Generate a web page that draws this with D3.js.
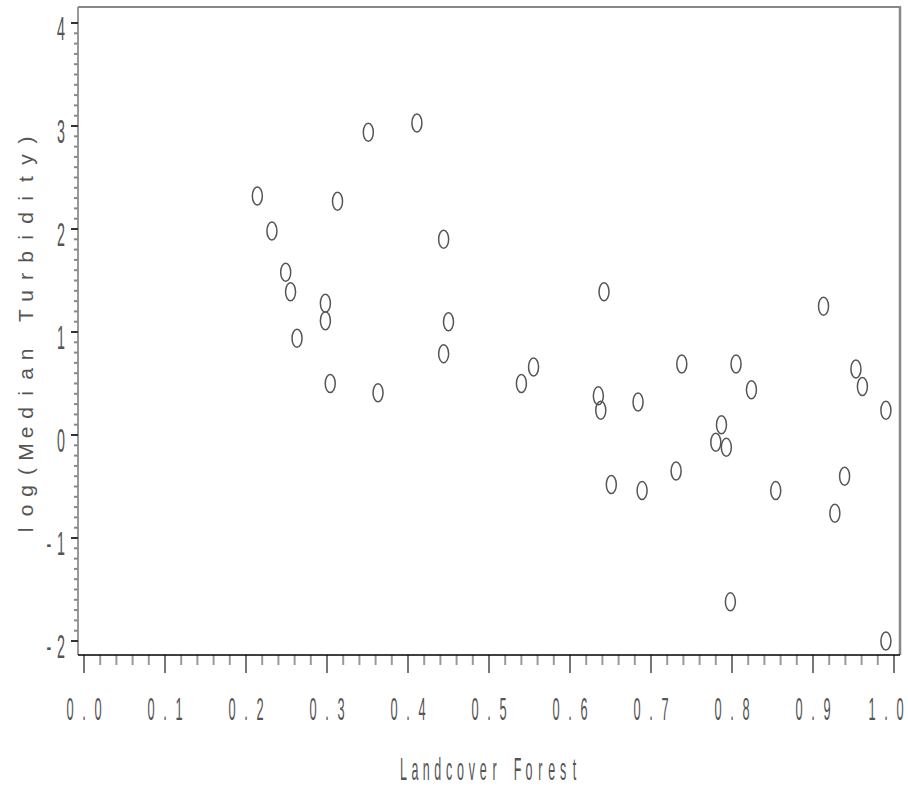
<!DOCTYPE html>
<html>
<head>
<meta charset="utf-8">
<script src="https://cdn.jsdelivr.net/npm/d3@7"></script>
<style>
  html, body { margin: 0; padding: 0; background: #fff; }
  svg { display: block; }
</style>
</head>
<body>
<svg id="chart" width="908" height="788"></svg>
<script>
// ---- data ----
const forest = [0.214,0.232,0.249,0.255,0.263,0.298,0.298,0.304,0.313,0.351,0.363,0.411,0.444,0.444,0.450,
                0.540,0.555,0.635,0.638,0.642,0.651,0.684,0.689,0.731,0.738,0.780,0.787,0.793,0.798,0.805,
                0.824,0.854,0.913,0.927,0.939,0.953,0.961,0.990,0.990];
const logTurbidity = [2.32,1.98,1.58,1.39,0.94,1.28,1.11,0.50,2.27,2.94,0.41,3.03,1.90,0.79,1.10,
                      0.50,0.66,0.38,0.24,1.39,-0.48,0.32,-0.54,-0.35,0.69,-0.07,0.10,-0.12,-1.62,0.69,
                      0.44,-0.54,1.25,-0.76,-0.40,0.64,0.47,0.24,-2.00];
const xTicks = [0,0.1,0.2,0.3,0.4,0.5,0.6,0.7,0.8,0.9,1.0];
const xTickLabels = ["0.0","0.1","0.2","0.3","0.4","0.5","0.6","0.7","0.8","0.9","1.0"];
const yTicks = [-2,-1,0,1,2,3,4];
const yTickLabels = ["-2","-1","0","1","2","3","4"];
const xTitle = "Landcover Forest";
const yTitle = "log(Median Turbidity)";

// ---- layout ----
const svg = d3.select("#chart");
const x = d3.scaleLinear().domain([0, 1]).range([84, 894]);
const y = d3.scaleLinear().domain([-2, 4]).range([641, 23]);
const frame = {left: 78, right: 900, top: 7, bottom: 655};
const textColor = "#555";
const FONT = "'Liberation Sans', Arial, sans-serif";

// draw a string char by char (condensed, letter-spaced look)
function drawChars(g, str, cx, baseline, pitch, size, sx, anchor) {
  const n = str.length;
  let start;
  if (anchor === "end") start = cx - (n - 1) * pitch;
  else start = cx - (n - 1) * pitch / 2;
  for (let i = 0; i < n; i++) {
    const ch = str[i];
    if (ch === " ") continue;
    g.append("text")
      .attr("transform", `translate(${start + i * pitch},${baseline}) scale(${sx},1)`)
      .attr("text-anchor", "middle")
      .attr("font-family", FONT)
      .attr("font-size", size)
      .attr("fill", textColor)
      .text(ch);
  }
}

// ---- frame ----
svg.append("line").attr("x1", frame.left).attr("x2", frame.left)
  .attr("y1", frame.top).attr("y2", frame.bottom)
  .attr("stroke", "#999").attr("stroke-width", 2);
svg.append("line").attr("x1", frame.left).attr("x2", frame.right + 1)
  .attr("y1", frame.top).attr("y2", frame.top)
  .attr("stroke", "#888").attr("stroke-width", 2);
svg.append("line").attr("x1", frame.right).attr("x2", frame.right)
  .attr("y1", frame.top).attr("y2", frame.bottom)
  .attr("stroke", "#888").attr("stroke-width", 2.5);

// ---- y ticks ----
const yMinor = d3.range(-20, 41).map(d => d / 10);
const isMajorY = d => Math.abs(d - Math.round(d)) < 1e-9;
svg.append("g").selectAll("line").data(yMinor).join("line")
  .attr("x1", d => isMajorY(d) ? 71 : 74)
  .attr("x2", frame.left)
  .attr("y1", d => y(d)).attr("y2", d => y(d))
  .attr("stroke", d => isMajorY(d) ? "#333" : "#888")
  .attr("stroke-width", 2);

// ---- x axis ----
const xMinor = d3.range(0, 51).map(d => d / 50);
svg.append("g").selectAll("line").data(xMinor).join("line")
  .attr("x1", d => x(d)).attr("x2", d => x(d))
  .attr("y1", frame.bottom)
  .attr("y2", (d, i) => i % 5 === 0 ? 673 : 665)
  .attr("stroke", (d, i) => i % 5 === 0 ? "#777" : "#999")
  .attr("stroke-width", 2);
svg.append("line").attr("x1", frame.left).attr("x2", frame.right)
  .attr("y1", frame.bottom).attr("y2", frame.bottom)
  .attr("stroke", "#000").attr("stroke-width", 1.6);

// ---- tick labels ----
const gxl = svg.append("g");
xTicks.forEach((t, i) => {
  const pitch = 14;
  let cx = x(t);
  const half = pitch + 4;
  if (cx + half > 904) cx = 904 - half;
  drawChars(gxl, xTickLabels[i], cx, 720, pitch, 32, 0.4);
});
const gyl = svg.append("g");
yTicks.forEach((t, i) => {
  drawChars(gyl, yTickLabels[i], 61, y(t) + 17, 12, 34, 0.42, "end");
});

// ---- titles ----
const gxt = svg.append("g");
drawChars(gxt, xTitle, 489, 780, 11.4, 32, 0.39);
const gyt = svg.append("g").attr("transform", "translate(33,335) rotate(-90)");
drawChars(gyt, yTitle, 0, 0, 19.5, 21, 1);

// ---- points ----
const pts = forest.map((f, i) => ({f, v: logTurbidity[i]}));
svg.append("g").selectAll("ellipse").data(pts).join("ellipse")
  .attr("cx", d => x(d.f)).attr("cy", d => y(d.v))
  .attr("rx", 5).attr("ry", 9)
  .attr("fill", "none")
  .attr("stroke", "#555")
  .attr("stroke-width", 1.5);
</script>
</body>
</html>
